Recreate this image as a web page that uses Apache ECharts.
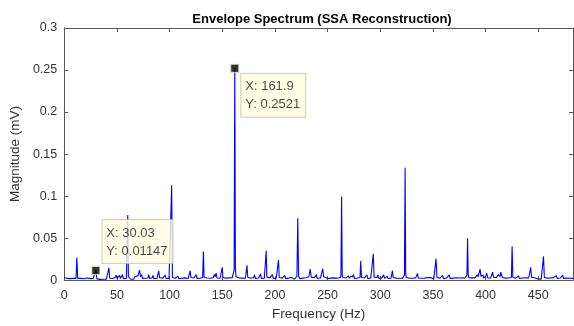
<!DOCTYPE html>
<html>
<head>
<meta charset="utf-8">
<script src="https://cdn.jsdelivr.net/npm/echarts@6/dist/echarts.min.js"></script>
<style>
html,body{margin:0;padding:0;background:#fff;}
#chart{width:574px;height:326px;}
</style>
</head>
<body>
<div id="chart"></div>
<script>
var titleText = 'Envelope Spectrum (SSA Reconstruction)';
var xLabel = 'Frequency (Hz)';
var yLabel = 'Magnitude (mV)';
var xMin = 0, xMax = 483, xStep = 50;
var yMin = 0, yMax = 0.3, yStep = 0.05;

// [frequency (Hz), magnitude (mV)]
var spectrum = [
[0,0.003],[1.5,0.001],[3,0.002],[4.5,0.0008],[6,0.0018],[7.5,0.001],[9,0.0022],[10.5,0.0012],
[11.2,0.002],[12,0.027],[12.8,0.002],[14,0.001],[15.5,0.0022],[17,0.0009],[18.5,0.0017],[20,0.0011],
[21.5,0.0025],[23,0.001],[24.5,0.0018],[26,0.0008],[27.5,0.002],[29,0.0015],[30.03,0.01147],[31,0.0015],
[32.5,0.0021],[34,0.0009],[35.5,0.0016],[37,0.0011],[38.5,0.0024],[40,0.0012],[41.6,0.002],[42.4,0.0145],
[43.2,0.0022],[44.5,0.001],[46,0.0019],[47.5,0.0012],[48.5,0.003],[49.3,0.006],[50.1,0.002],[51.5,0.0028],
[52.5,0.0055],[53.3,0.002],[54.5,0.0035],[55.3,0.0065],[56.1,0.0018],[57.5,0.0012],[59,0.002],[59.7,0.004],
[60.3,0.0776],[60.9,0.004],[61.6,0.0018],[63,0.001],[64.5,0.0024],[66,0.0012],[67,0.004],[67.8,0.006],
[68.6,0.0022],[69.8,0.005],[70.6,0.0075],[71.5,0.0118],[72.4,0.004],[73.5,0.0065],[74.3,0.002],[75.5,0.0012],
[77,0.0022],[78.5,0.001],[79.4,0.0025],[80.2,0.0065],[81,0.002],[82.5,0.0015],[83.5,0.0028],[84.3,0.0055],
[85.1,0.0018],[86.5,0.0011],[88,0.0022],[89,0.003],[89.7,0.0108],[90.5,0.0028],[92,0.0012],[93.5,0.0024],
[95,0.0035],[95.8,0.006],[96.6,0.002],[98,0.0012],[99.5,0.002],[101.3,0.003],[102,0.113],[102.7,0.003],
[104,0.0015],[105.5,0.0022],[107,0.003],[108,0.0048],[108.8,0.0018],[110.2,0.001],[111.7,0.0022],[113.2,0.0012],
[114.7,0.0026],[116.2,0.001],[117.7,0.002],[118.9,0.0035],[119.6,0.0112],[120.3,0.003],[121.7,0.0012],[123.2,0.0025],
[124.5,0.0045],[125.3,0.0065],[126.1,0.002],[127.5,0.0014],[129,0.0022],[130.5,0.0012],[131.4,0.003],[132.1,0.034],
[132.8,0.003],[134.2,0.0012],[135.7,0.0025],[137.2,0.0011],[138.7,0.0022],[140.2,0.0014],[141.5,0.003],[142.5,0.0068],
[143.3,0.004],[144.2,0.0082],[145,0.0025],[146.5,0.0012],[148,0.0022],[149.3,0.0035],[150,0.0152],[150.7,0.003],
[152,0.0013],[153.5,0.0024],[155,0.0011],[156.5,0.0026],[158,0.0015],[159.5,0.0028],[160.7,0.004],[161.3,0.012],
[161.9,0.2521],[162.5,0.012],[163.1,0.004],[164.5,0.0018],[166,0.0025],[167.5,0.0012],[169,0.0024],[170.5,0.0013],
[172,0.0022],[172.8,0.004],[173.5,0.0176],[174.2,0.0035],[175.5,0.0012],[177,0.0022],[178.5,0.0014],[179.8,0.003],
[180.6,0.0062],[181.4,0.002],[183,0.0012],[184.5,0.0025],[185.5,0.0038],[186.3,0.0072],[187.1,0.002],[188.5,0.0012],
[190,0.0022],[191,0.0035],[191.7,0.035],[192.4,0.0035],[193.8,0.0013],[195.3,0.0026],[196.8,0.0045],[197.6,0.0065],
[198.4,0.002],[199.8,0.0013],[201.3,0.0022],[202.7,0.0035],[203.4,0.024],[204.1,0.003],[205.5,0.0013],[207,0.0024],
[208.5,0.0035],[209.3,0.0055],[210.1,0.0018],[211.5,0.0012],[213,0.0024],[214.5,0.0014],[215.5,0.003],[216.3,0.0052],
[217.1,0.0018],[218.5,0.0012],[220,0.0022],[220.9,0.0045],[221.7,0.0737],[222.5,0.0045],[223.5,0.0018],[225,0.0012],
[226.5,0.0024],[228,0.0013],[229.5,0.0028],[231,0.0015],[232.2,0.004],[233.5,0.0132],[234.5,0.0035],[236,0.0014],
[237.5,0.0028],[238.6,0.0045],[239.4,0.0065],[240.2,0.002],[241.7,0.0014],[243.2,0.0025],[244.6,0.004],[245.4,0.0135],
[246.2,0.004],[247.2,0.0055],[248.2,0.003],[249.2,0.0045],[250.2,0.0018],[251.7,0.0012],[253.2,0.0024],[254.7,0.0013],
[256.2,0.0026],[257.7,0.0012],[259.2,0.0022],[260.7,0.0013],[262.2,0.003],[262.7,0.006],[263.3,0.0996],[263.9,0.006],
[264.5,0.003],[266,0.0013],[267.5,0.0025],[269,0.0035],[269.8,0.005],[270.6,0.002],[271.8,0.0045],[272.8,0.0065],
[273.8,0.004],[274.6,0.0068],[275.4,0.002],[276.8,0.0012],[278.3,0.0024],[279.8,0.0013],[280.8,0.003],[281.5,0.0227],
[282.2,0.003],[283.5,0.0013],[285,0.0025],[286.5,0.004],[287.3,0.0062],[288.1,0.002],[289.5,0.0012],[291,0.0024],
[292.6,0.0035],[293.4,0.0314],[294.2,0.0035],[295.5,0.0014],[297,0.0032],[297.8,0.006],[298.6,0.002],[300,0.0012],
[301.5,0.0026],[302.5,0.0042],[303.3,0.0062],[304.1,0.002],[305.5,0.0028],[306.5,0.0045],[307.3,0.002],[308.7,0.0012],
[310.2,0.0024],[310.9,0.0035],[311.6,0.0114],[312.3,0.003],[313.7,0.0012],[315.2,0.0024],[316.7,0.0011],[318.2,0.0022],
[319.7,0.0013],[321.2,0.0024],[322.4,0.003],[323,0.006],[323.6,0.1337],[324.2,0.006],[324.8,0.003],[326.2,0.0013],
[327.7,0.0024],[329.2,0.0012],[330.7,0.0022],[332.2,0.0013],[333.7,0.0026],[334.7,0.0035],[335.4,0.0078],[336.1,0.0025],
[337.5,0.0012],[339,0.0022],[340.5,0.0011],[342,0.0024],[343.5,0.0013],[344.8,0.003],[345.6,0.0048],[346.4,0.0018],
[347.8,0.003],[348.6,0.0052],[349.4,0.0025],[350.8,0.0014],[352.2,0.003],[353,0.0255],[353.8,0.003],[355.2,0.0013],
[356.7,0.0024],[358.2,0.003],[359.2,0.0055],[360,0.0018],[361.5,0.0012],[363,0.0025],[364.6,0.0035],[365.5,0.0062],
[366.3,0.002],[367.7,0.0012],[369.2,0.0024],[370.7,0.0013],[372.2,0.0028],[373.7,0.0012],[375.2,0.0025],[376.7,0.0014],
[378.2,0.0028],[379.5,0.0045],[380.3,0.0022],[381.7,0.003],[382.3,0.006],[382.9,0.0498],[383.5,0.006],[384.1,0.003],
[385.5,0.0014],[387,0.0026],[388.5,0.0012],[390,0.0026],[391.4,0.0045],[392.2,0.0065],[393,0.004],[393.9,0.0085],
[394.8,0.013],[395.6,0.0045],[396.5,0.0035],[397.5,0.0062],[398.3,0.0022],[399.5,0.0035],[400.4,0.0055],[401.1,0.0082],
[401.9,0.0025],[403.3,0.0013],[404.8,0.0025],[406,0.0035],[406.7,0.0094],[407.4,0.0035],[408.5,0.0018],[410,0.0028],
[411.2,0.004],[412.2,0.0065],[413,0.0062],[413.8,0.004],[414.5,0.0095],[415.2,0.0114],[416,0.003],[417.4,0.0014],
[418.9,0.0024],[420.4,0.0012],[421.9,0.0025],[423.4,0.0013],[424.5,0.003],[425.2,0.0404],[425.9,0.003],[427.3,0.0014],
[428.8,0.0024],[430.3,0.0035],[431.2,0.005],[432,0.002],[433.5,0.0013],[435,0.0025],[436.5,0.0012],[438,0.0026],
[439.5,0.0014],[441,0.0025],[442,0.0035],[442.8,0.0153],[443.6,0.0035],[445,0.0014],[446.5,0.0028],[447.5,0.0042],
[448.3,0.0022],[449.8,0.0013],[451.3,0.0024],[452.8,0.0012],[454.2,0.003],[455,0.0282],[455.8,0.003],[457.2,0.0013],
[458.7,0.0024],[460.2,0.0012],[461.7,0.0026],[463.2,0.0014],[464.5,0.003],[465.5,0.0048],[466.3,0.004],[467.2,0.0052],
[468,0.002],[469.5,0.0013],[471,0.0025],[472.4,0.0035],[473.2,0.0058],[474,0.002],[475.5,0.0012],[477,0.0024],
[478.5,0.0011],[480,0.0022],[481.5,0.0013],[483,0.002]
];

// data tips
var tipPoints = [[161.9, 0.2521], [30.03, 0.01147]];
var tipTexts = [['X: 161.9', 'Y: 0.2521'], ['X: 30.03', 'Y: 0.01147']];

var FONT = '"Liberation Sans", Arial, Helvetica, sans-serif';
var AX = '#595959';
var TXT = '#333333';

var chart = echarts.init(document.getElementById('chart'), null, {renderer: 'canvas'});

function axisCommon(show) {
  return {
    axisLine: {show: true, onZero: false, lineStyle: {color: AX, width: 1}},
    axisTick: {show: true, inside: true, length: 4, lineStyle: {color: AX, width: 1}},
    splitLine: {show: false},
    axisLabel: {show: show, color: TXT, fontFamily: FONT, fontSize: 12.5}
  };
}

var xb = axisCommon(true);
var xt = axisCommon(false);
var yl = axisCommon(true);
var yr = axisCommon(false);

var option = {
  animation: false,
  backgroundColor: '#ffffff',
  title: {
    text: titleText, left: 317, top: 8, textAlign: 'center',
    textStyle: {fontFamily: FONT, fontSize: 13, fontWeight: 'bold', color: '#000'}
  },
  grid: {left: 60, right: 1, top: 28, bottom: 43, containLabel: false},
  xAxis: [
    Object.assign({type: 'value', position: 'bottom', min: xMin, max: xMax, interval: xStep,
      name: xLabel, nameLocation: 'middle', nameGap: 26,
      nameTextStyle: {fontFamily: FONT, fontSize: 13.5, color: TXT}}, xb,
      {axisLabel: Object.assign({}, xb.axisLabel, {margin: 9, showMaxLabel: false})}),
    Object.assign({type: 'value', position: 'top', min: xMin, max: xMax, interval: xStep}, xt)
  ],
  yAxis: [
    Object.assign({type: 'value', position: 'left', min: yMin, max: yMax, interval: yStep,
      name: yLabel, nameLocation: 'middle', nameGap: 39,
      nameTextStyle: {fontFamily: FONT, fontSize: 13.5, color: TXT}}, yl,
      {axisLabel: Object.assign({}, yl.axisLabel, {margin: 7})}),
    Object.assign({type: 'value', position: 'right', min: yMin, max: yMax, interval: yStep}, yr)
  ],
  series: [
    {
      type: 'line', xAxisIndex: 0, yAxisIndex: 0,
      data: spectrum, showSymbol: false, symbol: 'none',
      lineStyle: {color: '#0000ff', width: 1.1},
      silent: true, z: 2
    },
    {
      type: 'scatter', xAxisIndex: 0, yAxisIndex: 0,
      symbol: 'rect', symbolSize: 8,
      itemStyle: {color: '#000', borderColor: '#e8e4c0', borderWidth: 1},
      z: 5,
      data: tipPoints.map(function (p, i) {
        return {
          value: p,
          label: {
            show: true,
            formatter: tipTexts[i].join('\n'),
            position: i === 0 ? [11, 10] : [11, -46],
            align: 'left', verticalAlign: 'top',
            fontFamily: FONT, fontSize: 13, lineHeight: 18, color: '#1a1a1a',
            backgroundColor: '#ffffe1', borderColor: '#c9c6a6', borderWidth: 1,
            padding: [4, 5, 3, 4]
          }
        };
      })
    }
  ]
};
chart.setOption(option);
</script>
</body>
</html>
